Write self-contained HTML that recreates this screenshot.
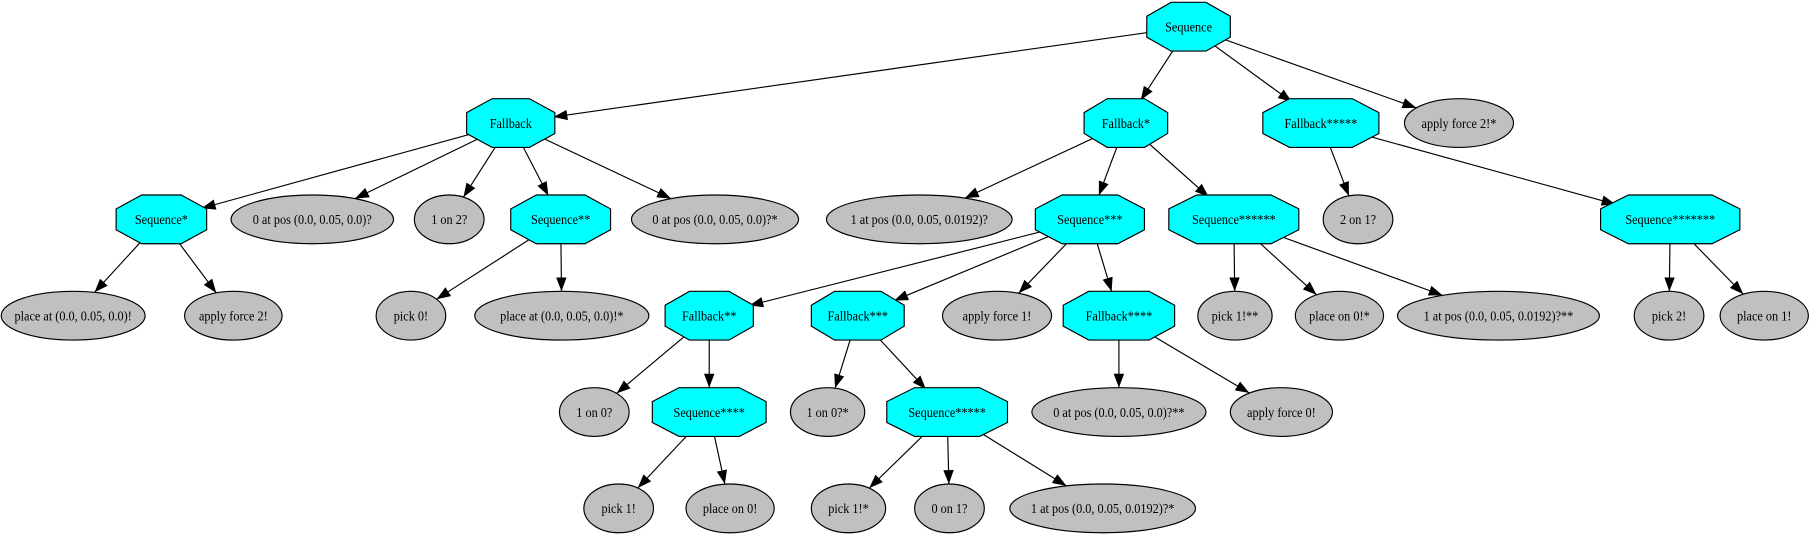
<!DOCTYPE html>
<html><head><meta charset="utf-8"><style>
html,body{margin:0;padding:0;background:#fff;}
svg{display:block;}
text{font-family:"Liberation Serif",serif;font-size:12px;text-anchor:middle;dominant-baseline:central;fill:#000;transform-box:fill-box;transform-origin:center;transform:scaleX(0.88);}
.o{fill:#00ffff;stroke:#000;stroke-width:1;}
.e{fill:#c0c0c0;stroke:#000;stroke-width:1;}
</style></head><body>
<svg id="s" width="1820" height="539" viewBox="0 0 1568 464.4" xmlns="http://www.w3.org/2000/svg">
<defs><marker id="a" markerUnits="userSpaceOnUse" markerWidth="13" markerHeight="10" refX="12" refY="5" orient="auto"><path d="M0,0.5 L12,5 L0,9.5 z" fill="#000"/></marker></defs>
<g id="edges" stroke="#000" stroke-width="1" fill="none"></g>
<g id="nodes">
<g transform="translate(1024,23)"><polygon class="o" points="-15,-21 15,-21 36,-9 36,9 15,21 -15,21 -36,9 -36,-9"/><text>Sequence</text></g>
<g transform="translate(440,106)"><polygon class="o" points="-16,-21 16,-21 38,-9 38,9 16,21 -16,21 -38,9 -38,-9"/><text>Fallback</text></g>
<g transform="translate(970,106)"><polygon class="o" points="-16,-21 16,-21 36,-9 36,9 16,21 -16,21 -36,9 -36,-9"/><text>Fallback*</text></g>
<g transform="translate(1138,106)"><polygon class="o" points="-27,-21 27,-21 50,-9 50,9 27,21 -27,21 -50,9 -50,-9"/><text>Fallback*****</text></g>
<g transform="translate(139,189)"><polygon class="o" points="-17,-21 17,-21 39,-9 39,9 17,21 -17,21 -39,9 -39,-9"/><text>Sequence*</text></g>
<g transform="translate(483,189)"><polygon class="o" points="-21,-21 21,-21 43,-9 43,9 21,21 -21,21 -43,9 -43,-9"/><text>Sequence**</text></g>
<g transform="translate(939,189)"><polygon class="o" points="-24,-21 24,-21 47,-9 47,9 24,21 -24,21 -47,9 -47,-9"/><text>Sequence***</text></g>
<g transform="translate(1063,189)"><polygon class="o" points="-32,-21 32,-21 56,-9 56,9 32,21 -32,21 -56,9 -56,-9"/><text>Sequence******</text></g>
<g transform="translate(1439,189)"><polygon class="o" points="-36,-21 36,-21 60,-9 60,9 36,21 -36,21 -60,9 -60,-9"/><text>Sequence*******</text></g>
<g transform="translate(611,272)"><polygon class="o" points="-17,-21 17,-21 38,-9 38,9 17,21 -17,21 -38,9 -38,-9"/><text>Fallback**</text></g>
<g transform="translate(739,272)"><polygon class="o" points="-20,-21 20,-21 40,-9 40,9 20,21 -20,21 -40,9 -40,-9"/><text>Fallback***</text></g>
<g transform="translate(964,272)"><polygon class="o" points="-26,-21 26,-21 48,-9 48,9 26,21 -26,21 -48,9 -48,-9"/><text>Fallback****</text></g>
<g transform="translate(611,355)"><polygon class="o" points="-26,-21 26,-21 49,-9 49,9 26,21 -26,21 -49,9 -49,-9"/><text>Sequence****</text></g>
<g transform="translate(816,355)"><polygon class="o" points="-28,-21 28,-21 52,-9 52,9 28,21 -28,21 -52,9 -52,-9"/><text>Sequence*****</text></g>
<ellipse class="e" cx="1257" cy="106" rx="47" ry="21"/><text x="1257" y="106">apply force 2!*</text>
<ellipse class="e" cx="269" cy="189" rx="70" ry="21"/><text x="269" y="189">0 at pos (0.0, 0.05, 0.0)?</text>
<ellipse class="e" cx="387" cy="189" rx="30" ry="21"/><text x="387" y="189">1 on 2?</text>
<ellipse class="e" cx="616" cy="189" rx="72" ry="21"/><text x="616" y="189">0 at pos (0.0, 0.05, 0.0)?*</text>
<ellipse class="e" cx="792" cy="189" rx="80" ry="21"/><text x="792" y="189">1 at pos (0.0, 0.05, 0.0192)?</text>
<ellipse class="e" cx="1170" cy="189" rx="30" ry="21"/><text x="1170" y="189">2 on 1?</text>
<ellipse class="e" cx="63" cy="272" rx="62" ry="21"/><text x="63" y="272">place at (0.0, 0.05, 0.0)!</text>
<ellipse class="e" cx="201" cy="272" rx="42" ry="21"/><text x="201" y="272">apply force 2!</text>
<ellipse class="e" cx="354" cy="272" rx="30" ry="21"/><text x="354" y="272">pick 0!</text>
<ellipse class="e" cx="484" cy="272" rx="75" ry="21"/><text x="484" y="272">place at (0.0, 0.05, 0.0)!*</text>
<ellipse class="e" cx="859" cy="272" rx="47" ry="21"/><text x="859" y="272">apply force 1!</text>
<ellipse class="e" cx="1064" cy="272" rx="32" ry="21"/><text x="1064" y="272">pick 1!**</text>
<ellipse class="e" cx="1154" cy="272" rx="38" ry="21"/><text x="1154" y="272">place on 0!*</text>
<ellipse class="e" cx="1291" cy="272" rx="87" ry="21"/><text x="1291" y="272">1 at pos (0.0, 0.05, 0.0192)?**</text>
<ellipse class="e" cx="1438" cy="272" rx="30" ry="21"/><text x="1438" y="272">pick 2!</text>
<ellipse class="e" cx="1520" cy="272" rx="38" ry="21"/><text x="1520" y="272">place on 1!</text>
<ellipse class="e" cx="512" cy="355" rx="30" ry="21"/><text x="512" y="355">1 on 0?</text>
<ellipse class="e" cx="713" cy="355" rx="32" ry="21"/><text x="713" y="355">1 on 0?*</text>
<ellipse class="e" cx="964" cy="355" rx="75" ry="21"/><text x="964" y="355">0 at pos (0.0, 0.05, 0.0)?**</text>
<ellipse class="e" cx="1104" cy="355" rx="44" ry="21"/><text x="1104" y="355">apply force 0!</text>
<ellipse class="e" cx="533" cy="438" rx="30" ry="21"/><text x="533" y="438">pick 1!</text>
<ellipse class="e" cx="629" cy="438" rx="38" ry="21"/><text x="629" y="438">place on 0!</text>
<ellipse class="e" cx="731" cy="438" rx="32" ry="21"/><text x="731" y="438">pick 1!*</text>
<ellipse class="e" cx="818" cy="438" rx="30" ry="21"/><text x="818" y="438">0 on 1?</text>
<ellipse class="e" cx="950" cy="438" rx="80" ry="21"/><text x="950" y="438">1 at pos (0.0, 0.05, 0.0192)?*</text>
</g>
</svg>
<script>
var E=[
[1024,23,440,106,38],[1024,23,970,106,36],[1024,23,1138,106,50],[1024,23,1257,106,47],
[440,106,139,189,39],[440,106,269,189,70],[440,106,387,189,30],[440,106,483,189,43],[440,106,616,189,72],
[970,106,792,189,80],[970,106,939,189,47],[970,106,1063,189,56],
[1138,106,1170,189,30],[1138,106,1439,189,60],
[139,189,63,272,62],[139,189,201,272,42],
[483,189,354,272,30],[483,189,484,272,75],
[939,189,611,272,38],[939,189,739,272,40],[939,189,859,272,47],[939,189,964,272,48],
[1063,189,1064,272,32],[1063,189,1154,272,38],[1063,189,1291,272,87],
[1439,189,1438,272,30],[1439,189,1520,272,38],
[611,272,512,355,30],[611,272,611,355,49],
[739,272,713,355,32],[739,272,816,355,52],
[964,272,964,355,75],[964,272,1104,355,44],
[611,355,533,438,30],[611,355,629,438,38],
[816,355,731,438,32],[816,355,818,438,30],[816,355,950,438,80]];
var g=document.getElementById('edges'),ns='http://www.w3.org/2000/svg';
E.forEach(function(e){var px=e[0],py=e[1],cx=e[2],cy=e[3],rx=e[4],ry=21;
var dx=px-cx,dy=py-cy,L=Math.hypot(dx,dy);dx/=L;dy/=L;
var t=1/Math.sqrt((dx/rx)*(dx/rx)+(dy/ry)*(dy/ry));
var l=document.createElementNS(ns,'line');
l.setAttribute('x1',px);l.setAttribute('y1',py);
l.setAttribute('x2',cx+dx*t);l.setAttribute('y2',cy+dy*t);
l.setAttribute('marker-end','url(#a)');g.appendChild(l);});
</script>
</body></html>
